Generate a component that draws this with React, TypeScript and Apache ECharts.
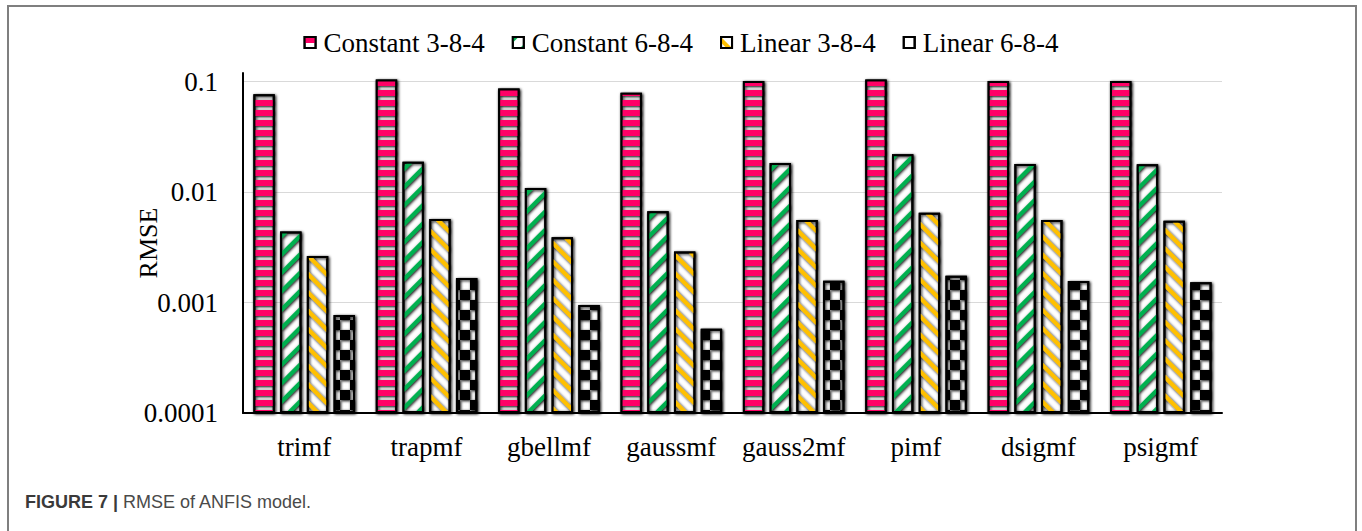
import React, { useEffect, useRef } from "react";
import * as echarts from "echarts";

const categories = ["trimf", "trapmf", "gbellmf", "gaussmf", "gauss2mf", "pimf", "dsigmf", "psigmf"];
const seriesNames = ["Constant 3-8-4", "Constant 6-8-4", "Linear 3-8-4", "Linear 6-8-4"];
const constant384 = [0.077, 0.105, 0.087, 0.0796, 0.1015, 0.105, 0.1015, 0.1015];
const constant684 = [0.0044, 0.0189, 0.0109, 0.0067, 0.0184, 0.022, 0.018, 0.0179];
const linear384 = [0.00264, 0.0057, 0.0039, 0.0029, 0.0056, 0.0065, 0.0056, 0.0055];
const linear684 = [0.00077, 0.00167, 0.00095, 0.00058, 0.00158, 0.00175, 0.00157, 0.00153];
const tickLabels = ["0.0001", "0.001", "0.01", "0.1"];

const SERIF = "'Liberation Serif', 'Times New Roman', serif";
const SANS = "'Liberation Sans', Arial, Helvetica, sans-serif";

export default function App() {
  const ref = useRef<HTMLDivElement>(null);
  useEffect(() => {
    if (!ref.current) return;
    const chart = echarts.init(ref.current, undefined, { renderer: "svg" });
    const baseItem = {
      color: "#ffffff",
      borderColor: "#000000",
      borderWidth: 2,
      shadowColor: "rgba(0,0,0,0.35)",
      shadowBlur: 3,
      shadowOffsetX: 1,
      shadowOffsetY: 1,
    };
    const decals = [
      { symbol: "rect", color: "#FF0066", dashArrayX: [1, 0], dashArrayY: [5.2, 3.4], symbolSize: 1 },
      { symbol: "rect", color: "#00B050", dashArrayX: [1, 0], dashArrayY: [4, 8.6], rotation: -Math.PI / 4, symbolSize: 1 },
      { symbol: "rect", color: "#FFC000", dashArrayX: [1, 0], dashArrayY: [4, 8.6], rotation: Math.PI / 4, symbolSize: 1 },
      { symbol: "rect", color: "#000000", dashArrayX: [[10, 10], [0, 10, 10, 0]], dashArrayY: [10, 0], symbolSize: 1 },
    ];
    const datas = [constant384, constant684, linear384, linear684];
    const series = datas.map((d, i) => ({
      name: seriesNames[i],
      type: "bar",
      data: d,
      barGap: "25%",
      barCategoryGap: "17%",
      itemStyle: { ...baseItem, decal: decals[i] },
    }));
    chart.setOption({
      animation: false,
      backgroundColor: "#ffffff",
      textStyle: { fontFamily: SERIF },
      legend: {
        top: 24,
        left: "center",
        itemWidth: 11,
        itemHeight: 11,
        itemGap: 27,
        icon: "rect",
        formatter: "{s|{name}}",
        textStyle: {
          fontFamily: SERIF,
          fontSize: 27,
          color: "#000",
          rich: { s: { fontFamily: SERIF, fontSize: 27, color: "#000", padding: [0, 0, 0, 3] } },
        },
        data: seriesNames,
      },
      grid: { left: 243, right: 140, top: 73, bottom: 118, containLabel: false },
      xAxis: {
        type: "category",
        data: categories,
        axisLine: { lineStyle: { color: "#000", width: 2 } },
        axisTick: { show: false },
        axisLabel: { interval: 0, fontFamily: SERIF, fontSize: 27, color: "#000", margin: 20 },
      },
      yAxis: {
        type: "log",
        logBase: 10,
        min: 0.0001,
        max: 0.12,
        startValue: 0.0001,
        name: "RMSE",
        nameLocation: "middle",
        nameRotate: 90,
        nameGap: 82,
        nameMoveOverlap: false,
        nameTextStyle: { fontFamily: SERIF, fontSize: 26, color: "#000" },
        axisLine: { show: true, lineStyle: { color: "#000", width: 2 } },
        axisTick: { show: false },
        axisLabel: {
          fontFamily: SERIF,
          fontSize: 27,
          color: "#000",
          margin: 25,
          formatter: (v: number) => {
            const l = Math.log10(v);
            const e = Math.round(l);
            if (Math.abs(l - e) > 0.01) return "";
            return tickLabels[e + 4] ?? "";
          },
        },
        splitLine: {
          show: true,
          lineStyle: { color: ["#d9d9d9", "#d9d9d9", "#d9d9d9", "#d9d9d9", "rgba(0,0,0,0)"], width: 1 },
        },
      },
      graphic: [
        {
          type: "rect",
          silent: true,
          shape: { x: 8, y: 6, width: 1348, height: 620 },
          style: { fill: "none", stroke: "#7f7f7f", lineWidth: 2 },
        },
        {
          type: "text",
          x: 25,
          y: 502,
          style: {
            text: "{b|FIGURE 7 |} RMSE of ANFIS model.",
            fontFamily: SANS,
            fontSize: 18,
            fill: "#4a4a4a",
            verticalAlign: "middle",
            rich: {
              b: { fontFamily: SANS, fontSize: 18, fontWeight: "bold", fill: "#3a3a3a" },
            },
          },
        },
      ],
      series,
    });
    return () => chart.dispose();
  }, []);
  return (
    <div
      ref={ref}
      style={{ position: "absolute", left: 0, top: 0, width: 1362, height: 531, background: "#fff" }}
    />
  );
}
